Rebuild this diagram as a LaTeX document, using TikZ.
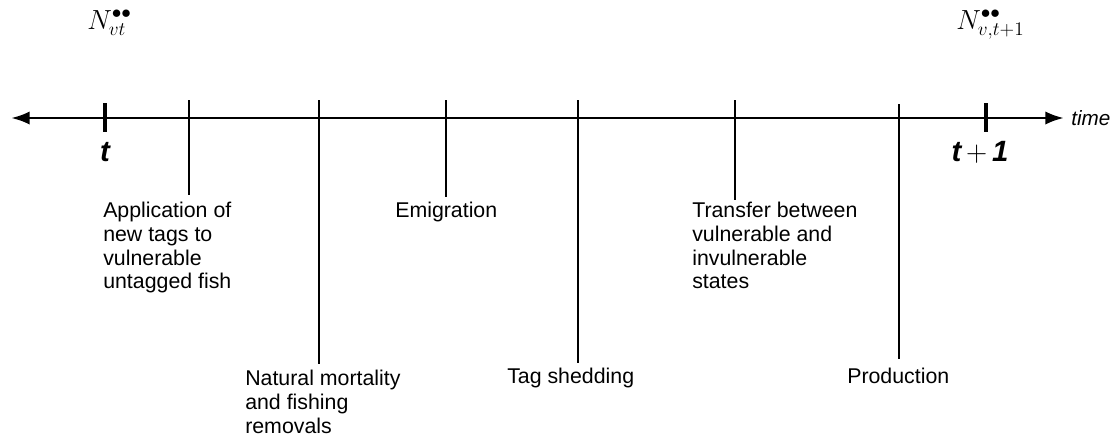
\documentclass[tikz,border=0pt]{standalone}
\usepackage{fontspec}
\setsansfont{Liberation Sans}
\usetikzlibrary{positioning}
\usetikzlibrary{calc}
\usetikzlibrary{arrows.meta}
\tikzset{
    % Filled heads on both ends of the time axis
    >={Latex[length=14pt,width=10pt]},
%
    % The main time axis
    time axis/.style={line width=2.2pt},
%
    % Short heavy ticks marking t and t+1
    year tick/.style={line width=3pt},
%
    % Thin lines dropping from the axis to each event
    event line/.style={line width=1.1pt},
%
    % Text describing one event
    event text/.style={
        anchor=north west, align=left, inner sep=0,
        font=\sffamily\fontsize{16}{17.8}\selectfont},
%
    % Labels under the ticks
    tick label/.style={font=\sffamily\bfseries\itshape\fontsize{22}{24}\selectfont},
%
    % Abundance labels above the ticks
    abundance/.style={anchor=base west, inner sep=0, font=\fontsize{20}{22}\selectfont}}

\begin{document}
\begin{tikzpicture}[x=0.75pt, y=-0.75pt]

% Fixed frame, same proportions as the page
\useasboundingbox (0,0) rectangle (1114,440);

% Time axis

\coordinate (left end) at (11,118);
\coordinate (right end) at (1064,118);
\draw [time axis, <->] (left end) -- (right end)
    node [right=1pt, font=\sffamily\itshape\fontsize{15.5}{17}\selectfont] (time) {time};

\coordinate (t0) at (105,118);
\coordinate (t1) at (986,118);
\draw [year tick] ($(t0)+(0,-15)$) -- ($(t0)+(0,14)$);
\draw [year tick] ($(t1)+(0,-15)$) -- ($(t1)+(0,14)$);

\node [tick label] (t0 label) at (105,152) {t};
\node [tick label] (t1 label) at (980,152) {t\,{\normalfont +}\,1};

\node [abundance] (n0) at (87,29) {$N^{\bullet\bullet}_{vt}$};
\node [abundance] (n1) at (956,29) {$N^{\bullet\bullet}_{v,t+1}$};

% Events, in order along the year

\node [event text] (apply) at (103,202)
    {Application of\\new tags to\\vulnerable\\untagged fish};
\node [event text] (mortality) at (245,370)
    {Natural mortality\\and fishing\\removals};
\node [event text] (emigrate) at (395,202) {Emigration};
\node [event text] (shed) at (507,368) {Tag shedding};
\node [event text] (transfer) at (692,202)
    {Transfer between\\vulnerable and\\invulnerable\\states};
\node [event text] (produce) at (847,368) {Production};

\coordinate (e1) at (189,100);
\coordinate (e2) at (319,100);
\coordinate (e3) at (446,100);
\coordinate (e4) at (578,100);
\coordinate (e5) at (735,100);
\coordinate (e6) at (899,104);

\draw [event line] (e1) -- ($(e1 |- apply.north)+(0,-7)$);
\draw [event line] (e2) -- ($(e2 |- mortality.north)+(0,-6)$);
\draw [event line] (e3) -- ($(e3 |- emigrate.north)+(0,-5)$);
\draw [event line] (e4) -- ($(e4 |- shed.north)+(0,-5)$);
\draw [event line] (e5) -- ($(e5 |- transfer.north)+(0,-2)$);
\draw [event line] (e6) -- ($(e6 |- produce.north)+(0,-9)$);

\end{tikzpicture}
\end{document}
